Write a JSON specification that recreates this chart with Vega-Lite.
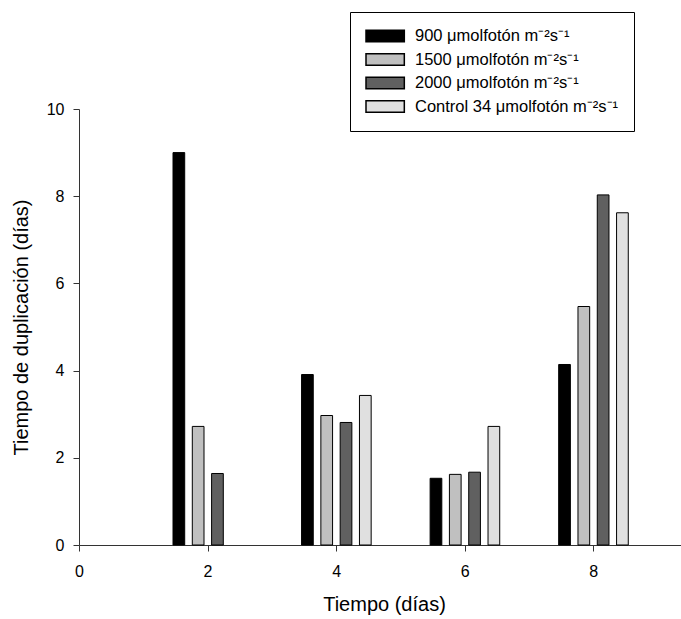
{
  "$schema": "https://vega.github.io/schema/vega-lite/v6.json",
  "width": 610,
  "height": 436,
  "autosize": {"type": "none"},
  "padding": {"left": 79, "top": 109, "right": 0, "bottom": 74},
  "background": "white",
  "config": {
    "view": {"stroke": null},
    "font": "Liberation Sans",
    "axis": {
      "grid": false,
      "domainColor": "#333333",
      "tickColor": "#333333",
      "tickSize": 6,
      "labelColor": "#000000",
      "labelFontSize": 16,
      "labelFlush": false,
      "titleColor": "#000000",
      "titleFontSize": 20,
      "titleFontWeight": "normal"
    }
  },
  "data": {
    "values": [
      {"dia": 2, "serie": "900 μmolfotón m⁻²s⁻¹", "td": 9.0},
      {"dia": 2, "serie": "1500 μmolfotón m⁻²s⁻¹", "td": 2.72},
      {"dia": 2, "serie": "2000 μmolfotón m⁻²s⁻¹", "td": 1.64},
      {"dia": 4, "serie": "900 μmolfotón m⁻²s⁻¹", "td": 3.91},
      {"dia": 4, "serie": "1500 μmolfotón m⁻²s⁻¹", "td": 2.97},
      {"dia": 4, "serie": "2000 μmolfotón m⁻²s⁻¹", "td": 2.81},
      {"dia": 4, "serie": "Control 34 μmolfotón m⁻²s⁻¹", "td": 3.43},
      {"dia": 6, "serie": "900 μmolfotón m⁻²s⁻¹", "td": 1.53},
      {"dia": 6, "serie": "1500 μmolfotón m⁻²s⁻¹", "td": 1.62},
      {"dia": 6, "serie": "2000 μmolfotón m⁻²s⁻¹", "td": 1.67},
      {"dia": 6, "serie": "Control 34 μmolfotón m⁻²s⁻¹", "td": 2.72},
      {"dia": 8, "serie": "900 μmolfotón m⁻²s⁻¹", "td": 4.14},
      {"dia": 8, "serie": "1500 μmolfotón m⁻²s⁻¹", "td": 5.47},
      {"dia": 8, "serie": "2000 μmolfotón m⁻²s⁻¹", "td": 8.03},
      {"dia": 8, "serie": "Control 34 μmolfotón m⁻²s⁻¹", "td": 7.62}
    ]
  },
  "encoding": {
    "x": {
      "field": "dia",
      "type": "quantitative",
      "title": "Tiempo (días)",
      "scale": {"domain": [0, 9.49], "nice": false, "zero": true, "padding": 0},
      "axis": {"values": [0, 2, 4, 6, 8], "labelPadding": 12, "titlePadding": 15, "labelFlush": false}
    },
    "y": {
      "field": "td",
      "type": "quantitative",
      "title": "Tiempo de duplicación (días)",
      "scale": {"domain": [0, 10], "nice": false, "padding": 0},
      "axis": {"values": [0, 2, 4, 6, 8, 10], "labelPadding": 9, "titlePadding": 15, "labelFlush": false}
    },
    "color": {
      "field": "serie",
      "type": "nominal",
      "scale": {
        "domain": ["900 μmolfotón m⁻²s⁻¹", "1500 μmolfotón m⁻²s⁻¹", "2000 μmolfotón m⁻²s⁻¹", "Control 34 μmolfotón m⁻²s⁻¹"],
        "range": ["#000000", "#c0c0c0", "#606060", "#e0e0e0"]
      },
      "legend": {
        "title": null,
        "orient": "none",
        "legendX": 271,
        "legendY": -97,
        "padding": 15,
        "fillColor": "#ffffff",
        "strokeColor": "#000000",
        "symbolType": "M-1,-0.725H3.79V0.725H-1Z",
        "symbolSize": 256,
        "symbolStrokeColor": "#000000",
        "labelOffset": 32,
        "labelFontSize": 16.5,
        "labelColor": "#000000",
        "labelLimit": 400,
        "rowPadding": 5.5
      }
    }
  },
  "layer": [
    {
      "transform": [{"filter": {"field": "serie", "equal": "900 μmolfotón m⁻²s⁻¹"}}],
      "mark": {"type": "bar", "size": 11.7, "stroke": "#000000", "xOffset": -28.7}
    },
    {
      "transform": [{"filter": {"field": "serie", "equal": "1500 μmolfotón m⁻²s⁻¹"}}],
      "mark": {"type": "bar", "size": 11.7, "stroke": "#000000", "xOffset": -9.4}
    },
    {
      "transform": [{"filter": {"field": "serie", "equal": "2000 μmolfotón m⁻²s⁻¹"}}],
      "mark": {"type": "bar", "size": 11.7, "stroke": "#000000", "xOffset": 9.9}
    },
    {
      "transform": [{"filter": {"field": "serie", "equal": "Control 34 μmolfotón m⁻²s⁻¹"}}],
      "mark": {"type": "bar", "size": 11.7, "stroke": "#000000", "xOffset": 29.2}
    }
  ]
}
